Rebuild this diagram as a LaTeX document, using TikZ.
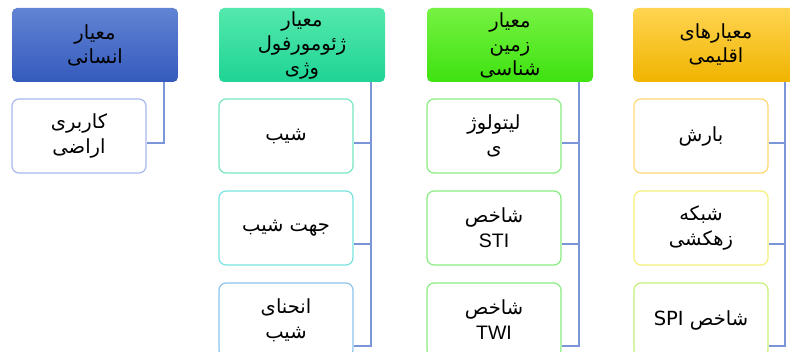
\documentclass[tikz,border=0pt]{standalone}
\usepackage{fontspec}
\usepackage{tikz}
\usetikzlibrary{calc,positioning}
\setmainfont{Liberation Sans}
\newfontfamily\farsi[Script=Arabic]{DejaVu Sans}
\TeXXeTstate=1
\newcommand{\fa}[1]{{\farsi\beginR #1\endR}}
\definecolor{linkblue}{HTML}{7B96D8}

\begin{document}
\begin{tikzpicture}[x=1pt,y=-1pt,
  hdr/.style={rounded corners=5pt,minimum width=166pt,minimum height=74pt,
    align=center,inner sep=1pt,font=\fontsize{19.5}{24}\selectfont},
  leaf/.style={draw,line width=1.2pt,fill=white,rounded corners=7pt,
    minimum width=134pt,minimum height=74pt,align=center,inner sep=2pt,
    font=\fontsize{19.5}{25}\selectfont},
  link/.style={linkblue,line width=1.8pt}]
\useasboundingbox (0,0) rectangle (790,352);
\clip (0,0) rectangle (790,352);

% Header nodes
\node[hdr,top color={rgb,255:red,98;green,132;blue,212},bottom color={rgb,255:red,52;green,90;blue,188}]
  (h1) at (95,45) {\fa{معیار}\\\fa{انسانی}};
\node[hdr,top color={rgb,255:red,84;green,232;blue,172},bottom color={rgb,255:red,30;green,212;blue,148}]
  (h2) at (302,45) {\fa{معیار}\\\fa{ژئومورفول}\\\fa{وژی}};
\node[hdr,top color={rgb,255:red,118;green,242;blue,66},bottom color={rgb,255:red,62;green,226;blue,16}]
  (h3) at (510,45) {\fa{معیار}\\\fa{زمین}\\\fa{شناسی}};
\node[hdr,top color={rgb,255:red,255;green,212;blue,80},bottom color={rgb,255:red,240;green,180;blue,0}]
  (h4) at (716,45) {\fa{معیارهای}\\\fa{اقلیمی}};

% Leaf nodes
\node[leaf,draw={rgb,255:red,168;green,184;blue,236}] (a1) at (79,136) {\fa{کاربری}\\\fa{اراضی}};

\node[leaf,draw={rgb,255:red,120;green,230;blue,196}] (b1) at (286,136) {\fa{شیب}};
\node[leaf,draw={rgb,255:red,120;green,228;blue,224}] (b2) at (286,228) {\fa{جهت شیب}};
\node[leaf,draw={rgb,255:red,140;green,196;blue,236}] (b3) at (286,320) {\fa{انحنای}\\\fa{شیب}};

\node[leaf,draw={rgb,255:red,136;green,238;blue,128}] (c1) at (494,136) {\fa{لیتولوژ}\\\fa{ی}};
\node[leaf,draw={rgb,255:red,136;green,238;blue,128}] (c2) at (494,228) {\fa{شاخص}\\STI};
\node[leaf,draw={rgb,255:red,136;green,238;blue,128}] (c3) at (494,320) {\fa{شاخص}\\TWI};

\node[leaf,draw={rgb,255:red,255;green,216;blue,116}] (d1) at (701,136) {\fa{بارش}};
\node[leaf,draw={rgb,255:red,244;green,240;blue,122}] (d2) at (701,228) {\fa{شبکه}\\\fa{زهکشی}};
\node[leaf,draw={rgb,255:red,200;green,240;blue,122}] (d3) at (701,320) {\fa{شاخص \beginL SPI\endL}};

% Links
\draw[link] ([xshift=-14pt]h1.south east) |- ([yshift=-7pt]a1.east);
\foreach \h/\l in {h2/b,h3/c,h4/d}
  \foreach \k/\dy in {1/7,2/16,3/26}
    \draw[link] ([xshift=-14pt]\h.south east) |- ([yshift=-\dy pt]\l\k.east);
\end{tikzpicture}
\end{document}
